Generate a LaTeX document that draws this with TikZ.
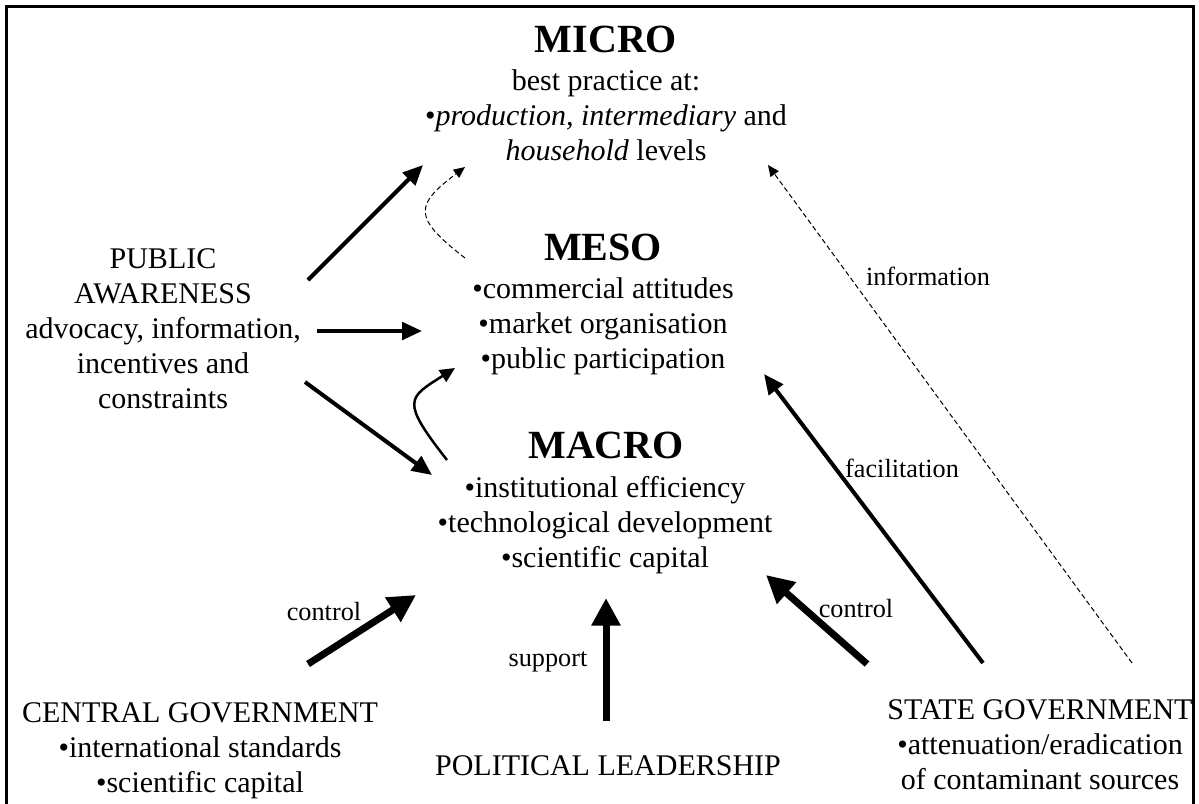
\documentclass[tikz,border=0pt]{standalone}
\usepackage{fontspec}
\setmainfont{Liberation Serif}
\usetikzlibrary{arrows.meta,positioning}

\begin{document}
\begin{tikzpicture}[
  x=0.4pt, y=-0.4pt,
  lvltitle/.style={font=\fontsize{16}{19}\selectfont\bfseries, inner sep=0pt, anchor=base},
  body/.style={font=\fontsize{12}{14}\selectfont, align=center, inner sep=0pt, anchor=base},
  lbl/.style={font=\fontsize{10.5}{12}\selectfont, inner sep=0pt, anchor=base},
  arr/.style={-{Triangle[length=8pt, width=7pt]}, line width=1.6pt},
  bigarr/.style={-{Triangle[length=11pt, width=11pt]}, line width=2.8pt},
  curarr/.style={-{Triangle[length=6pt, width=5.5pt]}, line width=1pt},
  dasharr/.style={-{Triangle[length=4.5pt, width=4pt]}, line width=0.4pt,
                  dash pattern=on 2pt off 1.2pt}
]
  \useasboundingbox (0,0) rectangle (1199,803);
  \draw[line width=1.2pt] (6,830) -- (6,6) -- (1193,6) -- (1193,830);

  % the three levels (body nodes sit on the baseline of their last line)
  \node[lvltitle] (micro) at (606,52) {MICRO};
  \node[body] (microtxt) at (606,160) {best practice at:\\
    •\textit{production, intermediary} and\\ \textit{household} levels};
  \node[lvltitle] (meso) at (603,260) {MESO};
  \node[body] (mesotxt) at (603,368) {•commercial attitudes\\
    •market organisation\\ •public participation};
  \node[lvltitle] (macro) at (606,458) {MACRO};
  \node[body] (macrotxt) at (605,567) {•institutional efficiency\\
    •technological development\\ •scientific capital};

  % actors
  \node[body] (pub) at (163,408) {PUBLIC\\ AWARENESS\\ advocacy, information,\\
    incentives and\\ constraints};
  \node[body] (central) at (200,792) {CENTRAL GOVERNMENT\\
    •international standards\\ •scientific capital};
  \node[body] (polit) at (608,775) {POLITICAL LEADERSHIP};
  \node[body] (state) at (1040,789) {STATE GOVERNMENT\\
    •attenuation/eradication\\ of contaminant sources};

  % arrow ends
  \coordinate (pub-micro) at (308,280);  \coordinate (micro-pub) at (423,165);
  \coordinate (pub-meso) at (317,331);   \coordinate (meso-pub) at (422,331);
  \coordinate (pub-macro) at (305,382);  \coordinate (macro-pub) at (432,475);
  \coordinate (meso-micro) at (465,258); \coordinate (micro-meso) at (465,167);
  \coordinate (macro-meso) at (447,460); \coordinate (meso-macro) at (455,368);
  \coordinate (state-micro) at (1132,663); \coordinate (micro-state) at (768,165);
  \coordinate (state-meso) at (983,663); \coordinate (meso-state) at (764,374);
  \coordinate (state-macro) at (867,664); \coordinate (macro-state) at (766,575);
  \coordinate (central-macro) at (308,664); \coordinate (macro-central) at (416,595);
  \coordinate (polit-macro) at (606,721); \coordinate (macro-polit) at (606,598);

  \draw[arr] (pub-micro) -- (micro-pub);
  \draw[arr] (pub-meso) -- (meso-pub);
  \draw[arr] (pub-macro) -- (macro-pub);
  \draw[dasharr] (meso-micro) .. controls (412,217) and (415,205) .. (micro-meso);
  \draw[curarr] (macro-meso) .. controls (400,400) and (408,398) .. (meso-macro);

  \draw[dasharr] (state-micro) -- (micro-state);
  \draw[arr] (state-meso) -- (meso-state);
  \draw[bigarr] (state-macro) -- (macro-state);
  \draw[bigarr] (central-macro) -- (macro-central);
  \draw[bigarr] (polit-macro) -- (macro-polit);

  % labels
  \node[lbl] (ctrl1) at (324,620) {control};
  \node[lbl] (supp) at (548,666) {support};
  \node[lbl] (ctrl2) at (856,617) {control};
  \node[lbl] (facil) at (902,477) {facilitation};
  \node[lbl] (info) at (928,285) {information};
\end{tikzpicture}
\end{document}
